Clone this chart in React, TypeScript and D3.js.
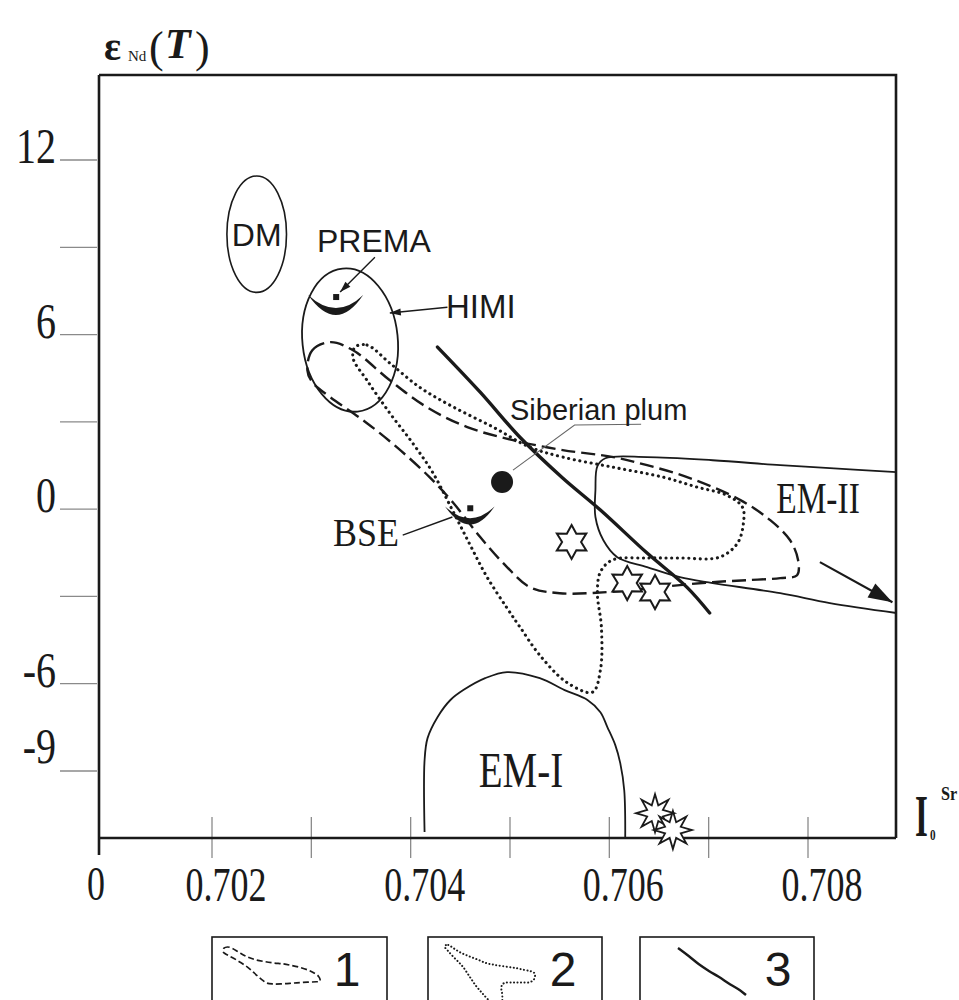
import React from "react";
import * as d3 from "d3";

// ---------------- data ----------------
const xTickValues = [0.702, 0.703, 0.704, 0.705, 0.706, 0.707, 0.708];
const xLabelValues = [0.702, 0.704, 0.706, 0.708];
const yTickValues = [12, 9, 6, 3, 0, -3, -6, -9];
const yLabelValues = [12, 6, 0, -6, -9];

// [87Sr/86Sr (I0), eNd(T)]
const field1: [number, number][] = [
  [0.70296, 4.78], [0.70301, 5.46], [0.70319, 5.74], [0.70342, 5.46], [0.70379, 4.43],
  [0.70416, 3.51], [0.70457, 2.82], [0.70503, 2.37], [0.70553, 2.03], [0.70604, 1.79],
  [0.70638, 1.51], [0.70681, 1.07], [0.70732, 0.31], [0.70762, -0.38], [0.70782, -1.07],
  [0.7079, -1.75], [0.70789, -2.27], [0.70772, -2.37], [0.70739, -2.44], [0.70704, -2.51],
  [0.70671, -2.61], [0.70644, -2.71], [0.70598, -2.85], [0.7055, -2.89], [0.7052, -2.68],
  [0.70497, -1.99], [0.7047, -0.96], [0.70443, 0.21], [0.70419, 1.1], [0.70386, 2.13],
  [0.70352, 3.06], [0.70319, 3.85], [0.70301, 4.36],
];

const field2: [number, number][] = [
  [0.70344, 5.57], [0.70356, 5.64], [0.70379, 5.02], [0.70409, 4.19], [0.70443, 3.51],
  [0.70483, 2.82], [0.7052, 2.13], [0.70553, 1.79], [0.70604, 1.44], [0.70654, 1.1],
  [0.70688, 0.76], [0.70718, 0.48], [0.70734, 0.07], [0.70735, -0.48], [0.70729, -1.17],
  [0.70711, -1.65], [0.70671, -1.68], [0.70638, -1.68], [0.70603, -1.75], [0.70591, -2.16],
  [0.70588, -2.89], [0.70592, -4.05], [0.70591, -5.53], [0.70583, -6.29], [0.70557, -5.95],
  [0.7053, -5.02], [0.7051, -4.05], [0.70497, -3.4], [0.70477, -2.34], [0.7046, -1.24],
  [0.70442, -0.03], [0.70422, 1.27], [0.70402, 2.27], [0.70379, 3.3], [0.70356, 4.43],
  [0.70342, 5.19],
];

const line3: [number, number][] = [
  [0.70427, 5.57], [0.7047, 4.02], [0.7051, 2.47], [0.70553, 1.07], [0.70591, -0.03],
  [0.70638, -1.51], [0.70678, -2.68], [0.70701, -3.57],
];

const fieldEM2: [number, number][] = [
  [0.70889, 1.27], [0.70822, 1.41], [0.70772, 1.51], [0.70704, 1.68], [0.70638, 1.79],
  [0.70596, 1.75], [0.70588, 1.48], [0.70586, 0.65], [0.70586, -0.27], [0.70594, -1.07],
  [0.70608, -1.65], [0.70638, -1.99], [0.70671, -2.34], [0.70704, -2.54], [0.70772, -2.89],
  [0.70822, -3.23], [0.70889, -3.57],
];

const fieldEM1: [number, number][] = [
  [0.70414, -11.1], [0.70414, -8.63], [0.70417, -7.87], [0.70427, -7.15], [0.7044, -6.56],
  [0.70453, -6.22], [0.70475, -5.81], [0.70497, -5.6], [0.7053, -5.81], [0.70555, -6.22],
  [0.70578, -6.56], [0.70591, -6.98], [0.70598, -7.49], [0.70606, -8.11], [0.70611, -8.73],
  [0.70615, -9.66], [0.70616, -11.27],
];

const dmCenter: [number, number] = [0.70245, 9.45];
const dmRadius: [number, number] = [0.0003, 2.0];
const himiCenter: [number, number] = [0.70339, 5.81];
const himiRadius: [number, number] = [0.00048, 2.47];

const premaPoint: [number, number] = [0.70325, 7.29];
const bsePoint: [number, number] = [0.7046, 0.03];
const siberianPlume: [number, number] = [0.70492, 0.93];
const sampleStars: [number, number][] = [[0.70562, -1.13], [0.70618, -2.54], [0.70646, -2.85]];
const spikyStars: [number, number][] = [[0.70646, -10.45], [0.70664, -11.03]];

// annotation leaders [from, to]
const premaArrow: [number, number][] = [[0.70364, 8.66], [0.70329, 7.46]];
const himiArrow: [number, number][] = [[0.70437, 6.94], [0.70379, 6.74]];
const bseLeader: [number, number][] = [[0.70392, -0.89], [0.70442, -0.27]];
const plumeLeader: [number, number][] = [[0.70632, 2.92], [0.70565, 2.89], [0.70503, 1.34]];
const em2Arrow: [number, number][] = [[0.70812, -1.82], [0.70885, -3.2]];

// ---------------- layout ----------------
const W = 959;
const H = 1000;
const left = 99, right = 896, top = 75, bottom = 838;

const x = d3.scaleLinear().domain([0.702, 0.708]).range([212, 808]);
const y = d3.scaleLinear().domain([12, -9]).range([160, 771]);

const INK = "#1a1a1a";
const SERIF = "'Liberation Serif', 'Times New Roman', serif";
const SANS = "'Liberation Sans', Arial, sans-serif";

function starPath(n: number, ro: number, ri: number) {
  const pts: string[] = [];
  for (let i = 0; i < n * 2; i++) {
    const a = (Math.PI * i) / n - Math.PI / 2;
    const r = i % 2 === 0 ? ro : ri;
    pts.push(`${(r * Math.cos(a)).toFixed(2)},${(r * Math.sin(a)).toFixed(2)}`);
  }
  return "M" + pts.join("L") + "Z";
}

function arrowHead(x1: number, y1: number, x2: number, y2: number, len: number, wid: number) {
  const a = Math.atan2(y2 - y1, x2 - x1);
  const bx = x2 - len * Math.cos(a);
  const by = y2 - len * Math.sin(a);
  const px = (wid / 2) * Math.cos(a + Math.PI / 2);
  const py = (wid / 2) * Math.sin(a + Math.PI / 2);
  return `M${x2},${y2}L${bx + px},${by + py}L${bx - px},${by - py}Z`;
}

const crescent = "M -28 -2 Q 0 38 27 -2 Q 0 24 -28 -2 Z";

function STxt(props: any) {
  const { x: tx, y: ty, sx = 1, children, ...rest } = props;
  return (
    <text transform={`translate(${tx},${ty}) scale(${sx},1)`} {...rest}>
      {children}
    </text>
  );
}

export default function App() {
  const closed = d3
    .line<[number, number]>()
    .x((d) => x(d[0]))
    .y((d) => y(d[1]))
    .curve(d3.curveCatmullRomClosed.alpha(0.5));
  const open = d3
    .line<[number, number]>()
    .x((d) => x(d[0]))
    .y((d) => y(d[1]))
    .curve(d3.curveCatmullRom.alpha(0.5));

  const mini = (data: [number, number][], rx: [number, number], ry: [number, number], isClosed: boolean) => {
    const ex = d3.extent(data, (d) => d[0]) as [number, number];
    const ey = d3.extent(data, (d) => d[1]) as [number, number];
    const sx = d3.scaleLinear().domain(ex).range(rx);
    const sy = d3.scaleLinear().domain([ey[1], ey[0]]).range(ry);
    return d3
      .line<[number, number]>()
      .x((d) => sx(d[0]))
      .y((d) => sy(d[1]))
      .curve(isClosed ? d3.curveCatmullRomClosed.alpha(0.5) : d3.curveCatmullRom.alpha(0.5))(data) as string;
  };

  const ell = (c: [number, number], r: [number, number]) => ({
    cx: x(c[0]),
    cy: y(c[1]),
    rx: x(c[0] + r[0]) - x(c[0]),
    ry: y(c[1] - r[1]) - y(c[1]),
  });
  const dm = ell(dmCenter, dmRadius);
  const himi = ell(himiCenter, himiRadius);

  const pA = premaArrow.map((d) => [x(d[0]), y(d[1])]);
  const hA = himiArrow.map((d) => [x(d[0]), y(d[1])]);
  const bL = bseLeader.map((d) => [x(d[0]), y(d[1])]);
  const eA = em2Arrow.map((d) => [x(d[0]), y(d[1])]);
  const plL = plumeLeader.map((d) => `${x(d[0])},${y(d[1])}`).join(" ");

  return (
    <svg width={W} height={H} viewBox={`0 0 ${W} ${H}`} style={{ display: "block", position: "absolute", left: 0, top: 0, background: "#fff" }}>
      <rect width={W} height={H} fill="#fff" />

      {/* axis title */}
      <text x={104} y={60} fontFamily={SERIF} fontSize={40} fontWeight="bold" fill={INK}>ε</text>
      <text x={128} y={61} fontFamily={SERIF} fontSize={15} fill={INK}>Nd</text>
      <text x={149} y={62} fontFamily={SERIF} fontSize={44} fill={INK}>(</text>
      <text x={165} y={58} fontFamily={SERIF} fontSize={42} fontWeight="bold" fontStyle="italic" fill={INK}>T</text>
      <text x={195} y={62} fontFamily={SERIF} fontSize={44} fill={INK}>)</text>

      {/* y ticks */}
      {yTickValues.map((v) => (
        <line key={"yt" + v} x1={60} x2={97} y1={y(v)} y2={y(v)} stroke="#8a8a8a" strokeWidth={1.3} />
      ))}
      {yLabelValues.map((v) => (
        <STxt key={"yl" + v} x={56} y={y(v) + (v === -9 ? -8 : 3)} sx={0.8} textAnchor="end" fontFamily={SERIF} fontSize={50} fill={INK}>
          {v}
        </STxt>
      ))}

      {/* x ticks */}
      {xTickValues.map((v) => (
        <line key={"xt" + v} x1={x(v)} x2={x(v)} y1={817} y2={858} stroke="#8a8a8a" strokeWidth={1.3} />
      ))}
      {xLabelValues.map((v) => (
        <STxt key={"xl" + v} x={x(v) + 14} y={901} sx={0.75} textAnchor="middle" fontFamily={SERIF} fontSize={48} fill={INK}>
          {d3.format(".3f")(v)}
        </STxt>
      ))}
      <STxt x={96} y={900} sx={0.75} textAnchor="middle" fontFamily={SERIF} fontSize={48} fill={INK}>0</STxt>

      {/* frame & axes */}
      <path d={`M${left},${top}H${right}V${bottom}`} fill="none" stroke={INK} strokeWidth={2.6} />
      <line x1={left} x2={left} y1={top} y2={855} stroke={INK} strokeWidth={2.6} />
      <line x1={left} x2={right} y1={bottom} y2={bottom} stroke={INK} strokeWidth={2.6} />

      {/* right axis title */}
      <STxt x={915} y={836} sx={0.55} fontFamily={SERIF} fontSize={60} fontWeight="bold" fill={INK}>I</STxt>
      <STxt x={930} y={840} sx={0.8} fontFamily={SERIF} fontSize={14} fontWeight="bold" fill={INK}>0</STxt>
      <STxt x={941} y={800} sx={0.9} fontFamily={SERIF} fontSize={18} fontWeight="bold" fill={INK}>Sr</STxt>

      {/* fields */}
      <ellipse {...dm} fill="none" stroke={INK} strokeWidth={1.6} />
      <ellipse {...himi} transform={`rotate(-6 ${himi.cx} ${himi.cy})`} fill="none" stroke={INK} strokeWidth={1.8} />
      <path d={closed(field1) as string} fill="none" stroke={INK} strokeWidth={2.4} strokeDasharray="14 6" />
      <path d={closed(field2) as string} fill="none" stroke={INK} strokeWidth={3.1} strokeDasharray="0.1 5.6" strokeLinecap="round" />
      <path d={open(fieldEM2) as string} fill="none" stroke={INK} strokeWidth={1.8} />
      <path d={open(fieldEM1) as string} fill="none" stroke={INK} strokeWidth={1.8} />
      <path d={open(line3) as string} fill="none" stroke={INK} strokeWidth={3.4} strokeLinecap="round" />

      {/* leaders & arrows */}
      <line x1={pA[0][0]} y1={pA[0][1]} x2={pA[1][0]} y2={pA[1][1]} stroke={INK} strokeWidth={1.4} />
      <path d={arrowHead(pA[0][0], pA[0][1], pA[1][0], pA[1][1], 11, 7)} fill={INK} />
      <line x1={hA[0][0]} y1={hA[0][1]} x2={hA[1][0]} y2={hA[1][1]} stroke={INK} strokeWidth={1.4} />
      <path d={arrowHead(hA[0][0], hA[0][1], hA[1][0], hA[1][1], 11, 7)} fill={INK} />
      <line x1={bL[0][0]} y1={bL[0][1]} x2={bL[1][0]} y2={bL[1][1]} stroke={INK} strokeWidth={1.4} />
      <polyline points={plL} fill="none" stroke="#666" strokeWidth={1.1} />
      <line x1={eA[0][0]} y1={eA[0][1]} x2={eA[1][0]} y2={eA[1][1]} stroke={INK} strokeWidth={2.2} />
      <path d={arrowHead(eA[0][0], eA[0][1], eA[1][0], eA[1][1], 24, 16)} fill={INK} />

      {/* points */}
      <g transform={`translate(${x(premaPoint[0])},${y(premaPoint[1])})`}>
        <rect x={-3} y={-3} width={6} height={6} fill={INK} />
        <path d={crescent} fill={INK} />
      </g>
      <g transform={`translate(${x(bsePoint[0])},${y(bsePoint[1])})`}>
        <rect x={-3} y={-3} width={6} height={6} fill={INK} />
        <path d={crescent} transform="scale(0.9)" fill={INK} />
      </g>
      <circle cx={x(siberianPlume[0])} cy={y(siberianPlume[1])} r={11} fill={INK} />
      {sampleStars.map((d, i) => (
        <path key={"s" + i} transform={`translate(${x(d[0])},${y(d[1])})`} d={starPath(6, 17, 9.5)} fill="#fff" stroke={INK} strokeWidth={2} strokeLinejoin="miter" />
      ))}
      {spikyStars.map((d, i) => (
        <path key={"k" + i} transform={`translate(${x(d[0])},${y(d[1])})`} d={starPath(8, 19, 8.5)} fill="#fff" stroke={INK} strokeWidth={1.8} />
      ))}

      {/* labels */}
      <text x={dm.cx} y={dm.cy + 12} textAnchor="middle" fontFamily={SANS} fontSize={32} fill={INK}>DM</text>
      <text x={317} y={252} fontFamily={SANS} fontSize={32} fill={INK}>PREMA</text>
      <text x={446} y={318} fontFamily={SANS} fontSize={33} fill={INK}>HIMI</text>
      <text x={510} y={420} fontFamily={SANS} fontSize={29} fill={INK}>Siberian plum</text>
      <STxt x={366} y={546} sx={0.9} textAnchor="middle" fontFamily={SERIF} fontSize={40} fill={INK}>BSE</STxt>
      <STxt x={521} y={787} sx={0.78} textAnchor="middle" fontFamily={SERIF} fontSize={50} fill={INK}>EM-I</STxt>
      <STxt x={818} y={513} sx={0.76} textAnchor="middle" fontFamily={SERIF} fontSize={44} fill={INK}>EM-II</STxt>

      {/* legend */}
      {[[212, 387], [428, 602], [640, 814]].map((b, i) => (
        <rect key={"lb" + i} x={b[0]} y={937} width={b[1] - b[0]} height={80} fill="none" stroke={INK} strokeWidth={1.6} />
      ))}
      <path d={mini(field1, [223, 320], [947, 984], true)} fill="none" stroke={INK} strokeWidth={1.7} strokeDasharray="6 3" />
      <path d={mini(field2, [445, 535], [945, 1006], true)} fill="none" stroke={INK} strokeWidth={2} strokeDasharray="0.1 3.4" strokeLinecap="round" />
      <path d={mini(line3, [678, 746], [948, 995], false)} fill="none" stroke={INK} strokeWidth={2.4} />
      <text x={347} y={986} textAnchor="middle" fontFamily={SANS} fontSize={48} fill={INK}>1</text>
      <text x={563} y={986} textAnchor="middle" fontFamily={SANS} fontSize={48} fill={INK}>2</text>
      <text x={778} y={986} textAnchor="middle" fontFamily={SANS} fontSize={48} fill={INK}>3</text>
    </svg>
  );
}
